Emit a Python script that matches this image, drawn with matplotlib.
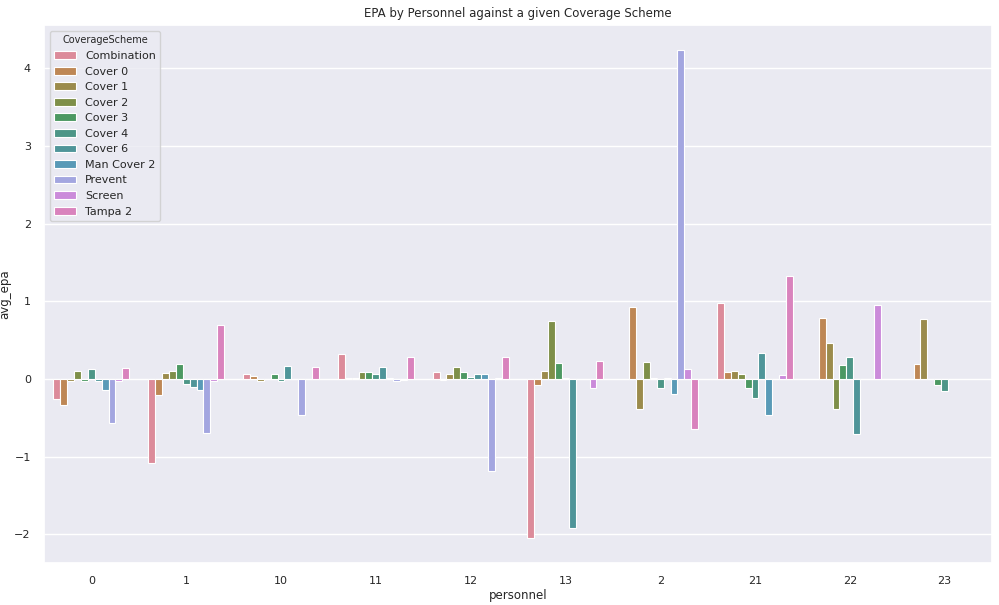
import numpy as np
import pandas as pd
import matplotlib
matplotlib.use("Agg")
import matplotlib.pyplot as plt
import seaborn as sns

personnel = ["0", "1", "10", "11", "12", "13", "2", "21", "22", "23"]
schemes = ["Combination", "Cover 0", "Cover 1", "Cover 2", "Cover 3", "Cover 4",
           "Cover 6", "Man Cover 2", "Prevent", "Screen", "Tampa 2"]
nan = np.nan

# avg_epa per scheme, one value per personnel group (NaN = no bar)
combination = [-0.26, -1.08, 0.06, 0.32, 0.085, -2.05, nan, 0.98, nan, nan]
cover_0 = [-0.34, -0.20, 0.035, 0.01, -0.01, -0.08, 0.93, 0.09, 0.79, 0.195]
cover_1 = [-0.02, 0.08, -0.03, 0.02, 0.07, 0.11, -0.39, 0.11, 0.47, 0.77]
cover_2 = [0.10, 0.10, nan, 0.09, 0.16, 0.75, 0.22, 0.07, -0.39, nan]
cover_3 = [-0.03, 0.19, 0.07, 0.095, 0.095, 0.21, 0.01, -0.11, 0.18, -0.08]
cover_4 = [0.13, -0.06, -0.03, 0.07, 0.03, 0.02, -0.11, -0.24, 0.28, -0.15]
cover_6 = [-0.03, -0.10, 0.17, 0.16, 0.07, -1.92, 0.01, 0.33, -0.71, nan]
man_cover_2 = [-0.14, -0.14, nan, 0.02, 0.07, nan, -0.19, -0.46, nan, nan]
prevent = [-0.56, -0.70, -0.46, -0.03, -1.18, nan, 4.24, nan, nan, nan]
screen = [-0.02, -0.03, nan, -0.01, 0.02, -0.12, 0.13, 0.055, 0.96, nan]
tampa_2 = [0.14, 0.70, 0.15, 0.29, 0.29, 0.23, -0.64, 1.33, nan, nan]

values = [combination, cover_0, cover_1, cover_2, cover_3, cover_4,
          cover_6, man_cover_2, prevent, screen, tampa_2]

rows = []
for scheme, vals in zip(schemes, values):
    for p, v in zip(personnel, vals):
        rows.append({"personnel": p, "CoverageScheme": scheme, "avg_epa": v})
df = pd.DataFrame(rows).dropna()

sns.set_theme(style="darkgrid")
fig, ax = plt.subplots(figsize=(9.99, 6.05), dpi=100)
sns.barplot(data=df, x="personnel", y="avg_epa", hue="CoverageScheme",
            order=personnel, hue_order=schemes,
            palette=sns.color_palette("husl", len(schemes), desat=0.8),
            saturation=0.75, edgecolor="white", linewidth=0.8, ax=ax)
ax.set_title("EPA by Personnel against a given Coverage Scheme", fontsize=8.5)
ax.set_xlabel("personnel", fontsize=8.5, labelpad=2)
ax.set_ylabel("avg_epa", fontsize=8.5, labelpad=2)
ax.tick_params(labelsize=8)
ax.legend(title="CoverageScheme", loc="upper left", fontsize=8, title_fontsize=7)
fig.subplots_adjust(left=0.044, right=0.993, top=0.958, bottom=0.07)
fig.savefig("out.png")
